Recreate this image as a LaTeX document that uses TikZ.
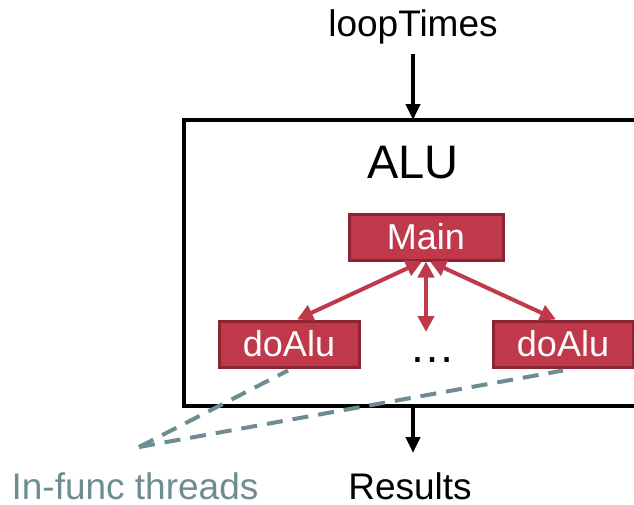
\documentclass[tikz,border=0pt]{standalone}
\usepackage{fontspec}
\setmainfont{Liberation Sans}
\usetikzlibrary{arrows.meta,calc}
\definecolor{taskred}{HTML}{C0394B}
\definecolor{taskedge}{HTML}{8B2534}
\definecolor{threadgray}{HTML}{6D8C94}
\tikzset{
  task/.style={draw=taskedge, line width=3pt, fill=taskred, text=white,
    minimum height=46pt, inner sep=0pt,
    font=\fontsize{36}{40}\selectfont},
  flow/.style={line width=4pt, -{Triangle[length=16pt,width=14pt]}},
  spawn/.style={draw=taskred, line width=4pt,
    {Triangle[length=16pt,width=16pt]}-{Triangle[length=16pt,width=16pt]}},
  thread/.style={draw=threadgray, line width=4pt, dash pattern=on 16pt off 10pt},
  label/.style={font=\fontsize{37}{40}\selectfont, inner sep=0pt}
}
\begin{document}
\begin{tikzpicture}[x=1pt,y=-1pt]
\clip (0,0) rectangle (634,504);
\fill[white] (0,0) rectangle (634,504);

% ALU box, running past the right edge
\node[draw=none, inner sep=0pt] (aluTop) at (413,120) {};
\draw[line width=4.5pt] (640,120) -- (184,120) -- (184,406) -- (640,406);
\node[draw=none, inner sep=0pt] (aluBot) at (413,406) {};
\node[label, font=\fontsize{47}{50}\selectfont] (alu) at (413,163) {ALU};

% inputs and outputs
\node[label] (loop) at (413,27) {loopTimes};
\node[label] (res) at (410,486) {Results};
\draw[flow] (loop.south |- 0,54) -- (aluTop.center);
\draw[flow] (aluBot.center) -- (aluBot.center |- 0,453);

% tasks
\node[task, minimum width=154pt] (main) at (426,237) {Main};
\node[task, minimum width=140pt] (d1) at (289,344) {doAlu};
\node[task, minimum width=140pt] (d2) at (563,344) {doAlu};
\node[label, font=\fontsize{46}{50}\selectfont, anchor=base] (dots) at (432,362) {…};
\coordinate (midend) at (426,332);

\draw[spawn] ([xshift=-4pt]main.south) -- ([xshift=8pt]d1.north);
\draw[spawn] (main.south) -- (midend);
\draw[spawn] ([xshift=4pt]main.south) -- ([xshift=-7pt]d2.north);

% thread callout
\node[label, text=threadgray] (inf) at (135,486) {In-func threads};
\coordinate (meet) at (139,447);
\draw[thread] (meet) -- ([xshift=-1pt,yshift=-2pt]d1.south);
\draw[thread] (meet) -- ([yshift=-2pt]d2.south);
\end{tikzpicture}
\end{document}
